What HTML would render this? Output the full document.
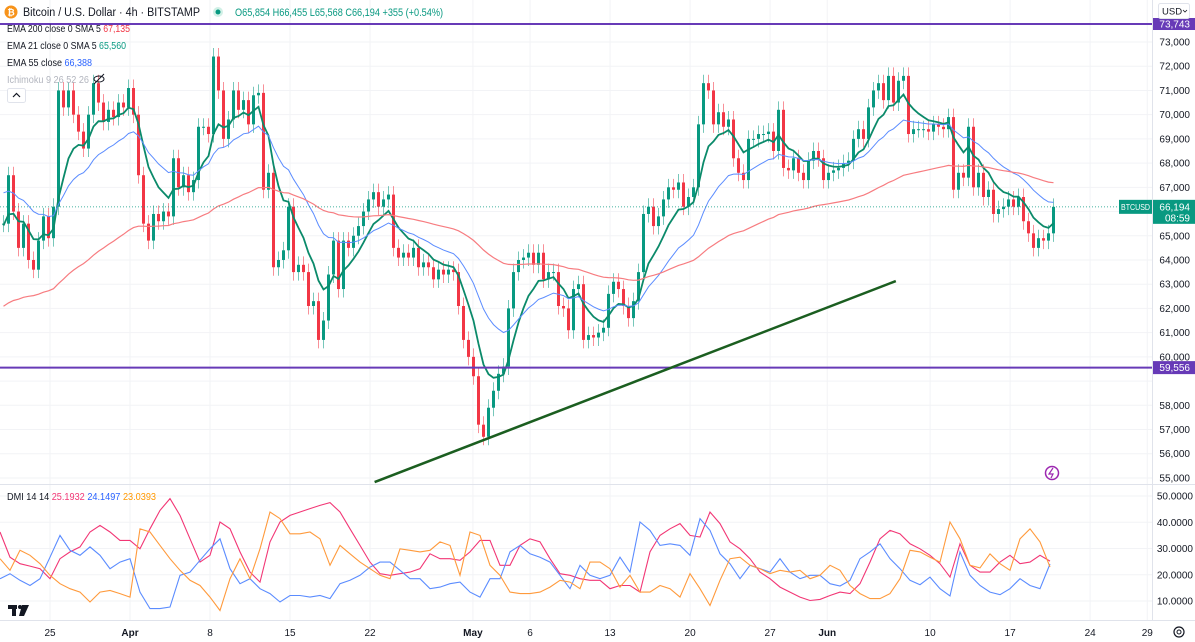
<!DOCTYPE html>
<html><head><meta charset="utf-8"><style>
html,body{margin:0;padding:0;background:#fff;width:1195px;height:642px;overflow:hidden;font-family:"Liberation Sans",sans-serif}
svg{position:absolute;left:0;top:0}
</style></head><body>
<svg id="c" width="1195" height="642" viewBox="0 0 1195 642" font-family="Liberation Sans, sans-serif">
<g id="grid"></g>
<g id="main"></g>
<g id="dmi"></g>
<g id="axes"></g>
<g id="ui">
  <circle cx="11" cy="12" r="6.5" fill="#f7931a"/>
  <text x="11" y="15.5" font-size="9" fill="#fff" text-anchor="middle" font-weight="bold">₿</text>
  <text x="23" y="16" font-size="11.5" fill="#131722" textLength="177" lengthAdjust="spacingAndGlyphs">Bitcoin / U.S. Dollar · 4h · BITSTAMP</text>
  <circle cx="218" cy="12" r="5" fill="#d1f0e6"/>
  <circle cx="218" cy="12" r="2.5" fill="#089981"/>
  <text x="235" y="16" font-size="11" fill="#089981" textLength="208" lengthAdjust="spacingAndGlyphs">O65,854 H66,455 L65,568 C66,194 +355 (+0.54%)</text>
  <text x="7" y="32" font-size="10" fill="#131722" textLength="123" lengthAdjust="spacingAndGlyphs">EMA 200 close 0 SMA 5 <tspan fill="#f23645">67,135</tspan></text>
  <text x="7" y="49" font-size="10" fill="#131722" textLength="119" lengthAdjust="spacingAndGlyphs">EMA 21 close 0 SMA 5 <tspan fill="#089981">65,560</tspan></text>
  <text x="7" y="66" font-size="10" fill="#131722" textLength="85" lengthAdjust="spacingAndGlyphs">EMA 55 close <tspan fill="#2962ff">66,388</tspan></text>
  <text x="7" y="83" font-size="10" fill="#b2b5be" textLength="82" lengthAdjust="spacingAndGlyphs">Ichimoku 9 26 52 26</text>
  <g stroke="#131722" fill="none" stroke-width="1"><ellipse cx="99" cy="79" rx="5" ry="3"/><line x1="94" y1="84" x2="104" y2="74"/></g>
  <rect x="7.5" y="88.5" width="18" height="14" rx="2" fill="#fff" stroke="#e0e3eb"/>
  <path d="M13 97 L16.5 93.5 L20 97" fill="none" stroke="#131722" stroke-width="1.2"/>
  <text x="7" y="500" font-size="10" fill="#131722" textLength="149" lengthAdjust="spacingAndGlyphs">DMI 14 14 <tspan fill="#f23675">25.1932</tspan> <tspan fill="#2962ff">24.1497</tspan> <tspan fill="#ff9800">23.0393</tspan></text>
  <g fill="#131722"><rect x="8" y="605" width="9" height="4"/><rect x="12" y="605" width="4" height="11"/><circle cx="20" cy="607" r="2"/><path d="M22 605 L29 605 L24 616 L19 616 Z"/></g>
  <rect x="1158.5" y="3.5" width="31" height="15" rx="2" fill="#fff" stroke="#e0e3eb"/>
  <text x="1162" y="14.5" font-size="9.5" fill="#131722">USD</text>
  <path d="M1183 10 l2 2 l2 -2" fill="none" stroke="#131722" stroke-width="0.8"/>
  <circle cx="1052" cy="473" r="6.5" fill="none" stroke="#9c27b0" stroke-width="1.5"/>
  <path d="M1053 468 L1049 474 L1053 474 L1051 478" fill="none" stroke="#9c27b0" stroke-width="1.2"/>
  <circle cx="1179" cy="632" r="5" fill="none" stroke="#131722" stroke-width="1.2"/>
  <circle cx="1179" cy="632" r="2" fill="none" stroke="#131722" stroke-width="1"/>
</g>
</svg>
<script>
// ---- data (closes in thousands USD, 12h-ish bars) ----
const closes=[65.5,67.5,66.0,64.5,65.5,64.0,63.6,64.8,65.8,64.9,66.2,71.0,70.3,71.0,70.0,69.3,68.6,70.0,71.3,70.5,69.7,70.2,69.9,70.5,70.3,71.1,70.0,67.5,65.5,64.8,65.9,65.6,66.0,65.8,68.2,67.0,67.5,66.8,67.3,69.5,69.5,69.2,72.4,71.0,69.0,69.8,71.0,70.2,70.6,69.6,70.8,70.9,66.9,67.6,63.7,64.0,64.4,66.2,63.5,63.8,63.5,62.1,62.3,60.7,61.5,63.4,64.8,62.8,64.8,64.5,65.0,65.4,66.0,66.5,66.8,66.2,66.5,66.7,64.5,64.1,64.3,64.1,64.5,63.7,63.9,63.7,63.2,63.6,63.4,63.6,63.5,62.1,60.7,60.0,59.2,57.2,56.7,57.9,58.6,59.3,59.6,62.0,63.5,64.0,64.1,64.3,63.8,64.3,63.2,63.5,63.5,62.1,62.0,61.1,62.8,63.0,60.7,60.9,60.8,61.0,61.2,62.6,63.1,62.8,62.1,61.6,62.3,63.5,65.9,66.2,65.4,65.8,66.5,67.0,66.9,67.2,66.2,66.6,67.0,69.6,71.3,71.0,69.6,70.1,69.5,69.8,68.2,67.6,67.3,69.0,69.0,69.2,69.2,69.3,68.5,70.2,67.8,67.7,68.2,67.6,67.3,68.1,68.5,68.2,67.3,67.6,67.7,67.8,68.0,68.1,69.0,69.4,69.0,70.3,71.0,71.3,70.6,71.6,70.5,71.4,71.6,69.2,69.4,69.4,69.4,69.3,69.6,69.5,69.4,69.9,66.9,67.6,67.4,69.5,67.0,67.6,66.6,66.9,65.9,66.1,66.2,66.5,66.2,66.6,65.6,65.1,64.5,64.9,64.8,65.1,66.194];
const emaSeeds=[65.4,66.9,62.0];
const emaPeriods=[8,21,77];
const diPlus=[36.3,26.7,24.2,23.3,22.3,18.5,26.1,28.7,30.6,36.3,38.8,36.3,33.1,33.1,29.9,37.5,44.5,49,42.6,33.7,24.8,27.4,40.1,37.5,28.7,21.0,17.2,32.5,40.1,42.6,43.9,45.2,46.4,47.5,43.9,37.5,31.2,24.8,20.4,19.8,20.4,21.0,22.3,28.0,26.1,26.1,25.5,28.7,33.1,33.1,23.6,23.6,31.2,33.7,32.5,26.1,20.4,19.8,18.5,17.9,
17.9,14.7,15.9,15.9,13.4,28.7,35.0,37.5,39.5,35.0,34.4,43.9,39.5,32.5,29.9,26.1,21.0,18.5,15.3,13.4,11.5,10.2,10.6,12.1,13.4,12.8,16.6,24.8,33.7,36.9,35.6,31.8,29.9,27.4,24.2,19.1,31.8,23.6,21.0,21.0,24.8,27.4,24.2,24.8,27.4,25.2];
const diMinus=[18.5,20.4,17.9,15.9,18.5,26.7,35.0,29.3,27.4,30.6,27.4,22.3,24.8,26.1,13.4,7.1,7.1,7.7,19.8,21.0,25.5,29.9,33.7,22.3,16.6,18.5,14.7,12.8,9.6,12.1,12.1,11.5,12.1,10.9,16.6,17.9,19.8,22.9,24.8,24.8,21.7,18.5,18.5,14.7,15.3,16.6,17.2,13.4,11.5,18.5,18.5,28.7,31.2,28.0,26.7,24.8,19.8,14.7,23.6,19.8,
18.5,19.8,26.7,21.0,40.1,36.9,31.2,31.8,31.2,27.4,41.4,36.9,28.0,24.2,18.5,23.6,22.3,21.0,26.1,21.0,18.5,19.8,19.8,16.6,15.7,17.9,26.1,28.7,31.8,26.1,22.3,17.9,16.2,19.1,14.7,11.9,28.7,19.8,15.9,13.4,12.4,14.7,18.5,15.9,14.7,24.1];
const adx=[26.1,21.7,29.3,27.4,24.2,19.8,16.6,14.7,13.4,9.6,13.4,14.0,12.8,11.5,37.5,36.3,31.2,26.1,21.7,17.9,15.9,11.5,6.4,18.5,26.1,18.5,29.9,43.9,41.4,35.6,35.6,36.3,33.7,23.6,31.2,28.0,24.8,22.3,19.8,18.5,29.9,29.3,28.7,29.3,32.5,31.2,19.8,36.3,35.0,23.6,19.8,13.4,12.8,12.8,13.4,15.3,17.9,17.2,14.7,24.8,
24.8,22.3,15.3,19.8,13.4,13.4,15.9,14.7,11.5,20.4,14.7,8.3,17.9,26.1,26.7,23.6,22.3,20.4,21.7,21.0,21.7,18.5,19.8,23.6,21.7,15.9,12.8,10.9,10.9,12.8,18.5,29.3,28.7,26.7,24.8,40.1,33.7,23.6,22.6,28.0,24.2,21.7,33.7,37.5,32.5,23.0];
const priceTicks=[73,72,71,70,69,68,67,65,64,63,62,61,60,58,57,56,55];
const dmiTicks=[50,40,30,20,10];
const dateLabels=["25","Apr","8","15","22","May","6","13","20","27","Jun","10","17","24","29"];
const dateDays=[0,7,14,21,28,37,42,49,56,63,68,77,84,91,96];
const levels=[73.743,59.556];
const trendDays=[28.4,74.0];
const trendPrices=[54.83,63.13];
// ---- scales ----
const BAR=5, DAYPX=11.43, X25=50;
const xBar=i=>i*BAR+2;
const xDay=d=>X25+d*DAYPX;
const yP=p=>42+(73-p)*24.22;
const yD=v=>496+(50-v)*2.625;
const NS="http://www.w3.org/2000/svg";
function mk(parent,tag,attrs){const e=document.createElementNS(NS,tag);for(const k in attrs)e.setAttribute(k,attrs[k]);parent.appendChild(e);return e;}
const G=document.getElementById('grid'),M=document.getElementById('main'),D=document.getElementById('dmi'),A=document.getElementById('axes');
for(const t of priceTicks.concat([66,59])){const l=mk(G,'line',{x1:0,x2:1152,y1:yP(t),y2:yP(t),stroke:'#f2f3f6'});

}
for(const t of dmiTicks){const l=mk(G,'line',{x1:0,x2:1152,y1:yD(t),y2:yD(t),stroke:'#f2f3f6'});

}
dateDays.forEach(d=>{const l=mk(G,'line',{x1:xDay(d),x2:xDay(d),y1:0,y2:620,stroke:'#f2f3f6'});

});
const s1=mk(A,'line',{x1:0,x2:1195,y1:484.5,y2:484.5,stroke:'#e0e3eb'});


const s2=mk(A,'line',{x1:1152.5,x2:1152.5,y1:0,y2:620,stroke:'#e0e3eb'});


const s3=mk(A,'line',{x1:0,x2:1195,y1:620.5,y2:620.5,stroke:'#e0e3eb'});


closes.forEach((c,i)=>{const o=i?closes[i-1]:c;const up=c>=o;const col=up?'#089981':'#f23645';
const hi=Math.max(o,c)+0.35,lo=Math.min(o,c)-0.35;const x=xBar(i);
const w=mk(M,'line',{x1:x+1.5,x2:x+1.5,y1:yP(hi),y2:yP(lo),stroke:col,'stroke-opacity':0.55});


const b=mk(M,'rect',{x:x,y:yP(Math.max(o,c)),width:3,height:Math.max(1,Math.abs(yP(o)-yP(c))),fill:col});

});
const emaCols=['#0b8a6a','#5b8cff','#f77c80'],emaW=[1.8,1,1.2],emaNames=['ema21-line','ema55-line','ema200-line'];
emaPeriods.forEach((n,k)=>{let e=emaSeeds[k];const a=2/(n+1);const pts=[];closes.forEach((c,i)=>{e=e+a*(c-e);pts.push(xBar(i)+1.5+','+yP(e).toFixed(1));});
const p=mk(M,'polyline',{points:pts.join(' '),fill:'none',stroke:emaCols[k],'stroke-width':emaW[k]});

});
levels.forEach((v,k)=>{const l=mk(M,'line',{x1:0,x2:1152,y1:yP(v),y2:yP(v),stroke:'#673ab7','stroke-width':2});

});
const tl=mk(M,'line',{x1:xDay(trendDays[0]),y1:yP(trendPrices[0]),x2:xDay(trendDays[1]),y2:yP(trendPrices[1]),stroke:'#1b5e20','stroke-width':2.5});


const last=closes[closes.length-1];
const lp=mk(M,'line',{x1:0,x2:1152,y1:yP(last),y2:yP(last),stroke:'#089981','stroke-dasharray':'1 2','stroke-width':0.8});


[[diPlus,'#f23675','di-plus-line'],[diMinus,'#5b8cff','di-minus-line'],[adx,'#ff9a3c','adx-line']].forEach(([arr,col,nm])=>{
const pts=arr.map((v,i)=>(i*10)+','+yD(v).toFixed(1)).join(' ');
const p=mk(D,'polyline',{points:pts,fill:'none',stroke:col,'stroke-width':1.1});

});
function txt(parent,x,y,s,attrs,name){const t=mk(parent,'text',Object.assign({x:x,y:y,'font-size':10,fill:'#131722'},attrs||{}));t.textContent=s;

return t;}
priceTicks.forEach(t=>txt(A,1190,yP(t)+3.5,(t*1000).toLocaleString('en-US'),{'text-anchor':'end'},'price-tick-label'));
dmiTicks.forEach(t=>txt(A,1193,yD(t)+3.5,t.toFixed(4),{'text-anchor':'end'},'dmi-tick-label'));
dateLabels.forEach((s,i)=>txt(A,xDay(dateDays[i]),636,s,{'text-anchor':'middle','font-weight':(s==='Apr'||s==='May'||s==='Jun')?'bold':'normal'},'date-label'));
const r1=mk(A,'rect',{x:1153,y:yP(levels[0])-6,width:42,height:12,fill:'#673ab7'});


txt(A,1190,yP(levels[0])+3.5,'73,743',{'text-anchor':'end',fill:'#fff'},'resistance-price-text');
const r2=mk(A,'rect',{x:1153,y:yP(levels[1])-6.5,width:42,height:13,fill:'#673ab7'});


txt(A,1190,yP(levels[1])+3.5,'59,556',{'text-anchor':'end',fill:'#fff'},'support-price-text');
const bt=mk(A,'rect',{x:1119,y:yP(last)-7,width:33,height:14,fill:'#089981'});


txt(A,1135.5,yP(last)+3,'BTCUSD',{'text-anchor':'middle',fill:'#fff','font-size':8.5,textLength:29,lengthAdjust:'spacingAndGlyphs'},'symbol-tag-text');
const pt=mk(A,'rect',{x:1153,y:yP(last)-7,width:42,height:24,fill:'#089981'});


txt(A,1190,yP(last)+3.5,'66,194',{'text-anchor':'end',fill:'#fff'},'last-price-text');
txt(A,1190,yP(last)+14.5,'08:59',{'text-anchor':'end',fill:'#fff'},'countdown-text');
</script>
</body></html>
